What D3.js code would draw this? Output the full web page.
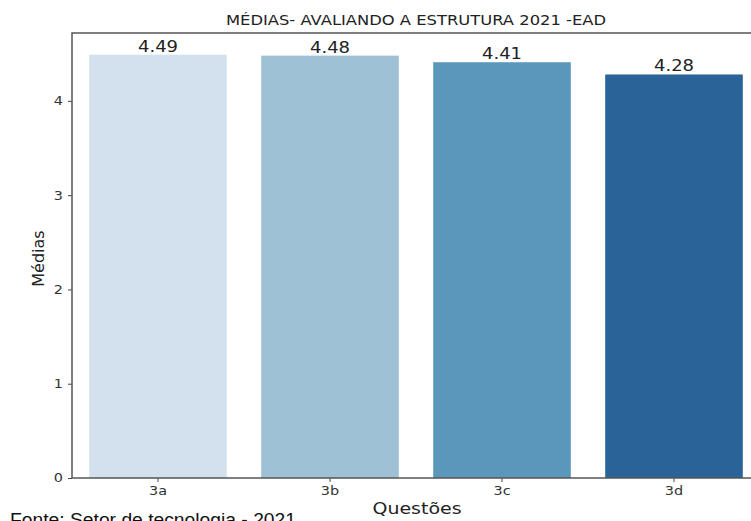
<!DOCTYPE html>
<html><head><meta charset="utf-8">
<script src="https://cdn.jsdelivr.net/npm/d3@7"></script>
<style>body{margin:0;background:#fff;}svg{display:block;}</style>
</head><body>
<script>
const categories = ["3a","3b","3c","3d"];
const values = [4.49, 4.48, 4.41, 4.28];
const valueLabels = ["4.49","4.48","4.41","4.28"];
const colors = ["#d3e1ee","#9ec1d5","#5b96bb","#2a6398"];
const yTicks = [0,1,2,3,4];
const title = "MÉDIAS- AVALIANDO A ESTRUTURA 2021 -EAD";

const W=751,H=521;
const svg=d3.select("body").append("svg").attr("width",W).attr("height",H);
const L=72,R=760,T=33,B=478;
const x=d3.scaleBand().domain(categories).range([L,R]).paddingInner(0.2).paddingOuter(0.1);
const y=d3.scaleLinear().domain([0,4.72]).range([B,T]);

function stretch(sel,f){
  sel.each(function(){
    const l=this.getComputedTextLength();
    d3.select(this).attr("textLength",l*f).attr("lengthAdjust","spacingAndGlyphs");
  });
}

svg.selectAll("rect.bar").data(values).enter().append("rect")
 .attr("x",(d,i)=>x(categories[i])).attr("width",x.bandwidth())
 .attr("y",d=>y(d)).attr("height",d=>B-y(d)).attr("fill",(d,i)=>colors[i]);

const vl=svg.selectAll("text.val").data(values).enter().append("text")
 .attr("x",(d,i)=>x(categories[i])+x.bandwidth()/2).attr("y",d=>y(d)-3)
 .attr("text-anchor","middle").attr("font-family","DejaVu Sans").attr("font-size",15)
 .attr("fill","#222").text((d,i)=>valueLabels[i]);
stretch(vl,1.2);

const yAxis=svg.append("g").attr("transform",`translate(${L},0)`)
 .call(d3.axisLeft(y).tickValues(yTicks).tickSize(4).tickPadding(5).tickFormat(d3.format("d")));
const xAxis=svg.append("g").attr("transform",`translate(0,${B})`)
 .call(d3.axisBottom(x).tickSize(4).tickPadding(4));
[yAxis,xAxis].forEach(g=>{
 g.select(".domain").remove();
 g.selectAll("line").attr("stroke","#444");
 g.selectAll("text").attr("font-family","DejaVu Sans").attr("font-size",12).attr("fill","#333");
 stretch(g.selectAll("text"),1.2);
});
// frame
svg.append("rect").attr("x",L).attr("y",T).attr("width",R-L).attr("height",B-T)
 .attr("fill","none").attr("stroke","#555").attr("stroke-width",1.5);

svg.append("text").attr("x",(L+R)/2).attr("y",25).attr("text-anchor","middle")
 .attr("font-family","DejaVu Sans").attr("font-size",14.5).attr("fill","#222")
 .attr("textLength",380).attr("lengthAdjust","spacingAndGlyphs").text(title);
svg.append("text").attr("transform",`translate(44,${(T+B)/2+3}) rotate(-90)`).attr("text-anchor","middle")
 .attr("font-family","DejaVu Sans").attr("font-size",16).attr("fill","#222").text("Médias");
svg.append("text").attr("x",(L+R)/2+1).attr("y",514).attr("text-anchor","middle")
 .attr("font-family","DejaVu Sans").attr("font-size",16).attr("fill","#222")
 .attr("textLength",89).attr("lengthAdjust","spacingAndGlyphs").text("Questões");
svg.append("text").attr("x",10).attr("y",526).attr("font-family","Liberation Sans")
 .attr("font-size",18).attr("fill","#111").attr("textLength",286).attr("lengthAdjust","spacingAndGlyphs")
 .text("Fonte: Setor de tecnologia - 2021");
</script>
</body></html>
